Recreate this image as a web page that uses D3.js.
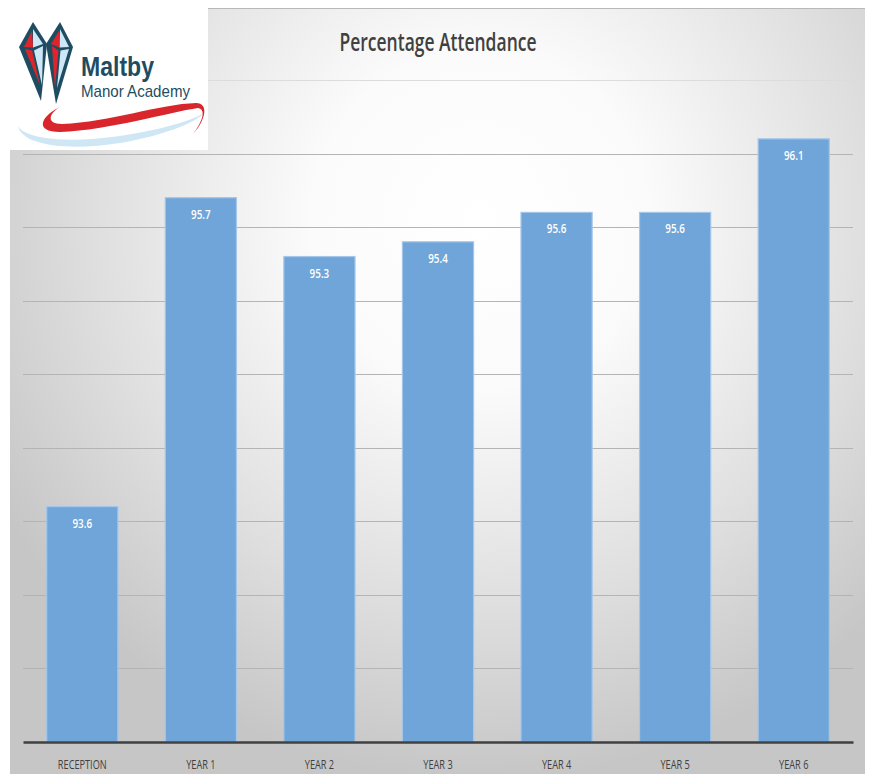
<!DOCTYPE html>
<html>
<head>
<meta charset="utf-8">
<script src="https://cdn.jsdelivr.net/npm/d3@7"></script>
<style>
  body { margin: 0; background: #fff; }
  svg { display: block; }
  .narrow { font-family: "Open Sans", "Noto Sans", sans-serif; }
</style>
</head>
<body>
<div id="chart"></div>
<script>
// data
const years = ["RECEPTION", "YEAR 1", "YEAR 2", "YEAR 3", "YEAR 4", "YEAR 5", "YEAR 6"];
const attendance = [93.6, 95.7, 95.3, 95.4, 95.6, 95.6, 96.1];
const gridTicks = [92, 92.5, 93, 93.5, 94, 94.5, 95, 95.5, 96, 96.5];

const width = 870, height = 774;

const margin = { top: 80, right: 17, bottom: 32, left: 23 };

// squeeze text to look like a condensed font
function condense(sel, k) {
  sel.each(function () {
    const w = this.getComputedTextLength();
    d3.select(this)
        .attr("textLength", w * k)
        .attr("lengthAdjust", "spacingAndGlyphs");
  });
}

const svg = d3.select("#chart")
    .append("svg")
    .attr("width", width)
    .attr("height", height);

// background gradient
const defs = svg.append("defs");
const grad = defs.append("radialGradient")
    .attr("id", "bg")
    .attr("gradientUnits", "userSpaceOnUse")
    .attr("cx", 480).attr("cy", 220).attr("r", 560);
grad.append("stop").attr("offset", "0%").attr("stop-color", "#ffffff");
grad.append("stop").attr("offset", "30%").attr("stop-color", "#fbfbfb");
grad.append("stop").attr("offset", "70%").attr("stop-color", "#dedede");
grad.append("stop").attr("offset", "100%").attr("stop-color", "#c6c6c6");

svg.append("rect")
    .attr("x", 10).attr("y", 8)
    .attr("width", 855).attr("height", 766)
    .attr("fill", "url(#bg)");

svg.append("line")
    .attr("x1", 10).attr("x2", 865)
    .attr("y1", 8.5).attr("y2", 8.5)
    .attr("stroke", "#b8b8b8")
    .attr("stroke-width", 1);

// scales
const x = d3.scaleBand()
    .domain(years)
    .range([margin.left, width - margin.right])
    .paddingInner(0.4)
    .paddingOuter(0.2);

const y = d3.scaleLinear()
    .domain([92, 96.5])
    .range([height - margin.bottom, margin.top]);

// gridlines
svg.append("g")
    .selectAll("line")
    .data(gridTicks.slice(1))
    .enter()
    .append("line")
    .attr("x1", margin.left)
    .attr("x2", width - margin.right)
    .attr("y1", (d) => Math.round(y(d)) + 0.5)
    .attr("y2", (d) => Math.round(y(d)) + 0.5)
    .attr("stroke", (d) => d === 96.5 ? "#dcdcdc" : "#b4b4b4")
    .attr("stroke-width", 1);

// bars
svg.append("g")
    .selectAll("rect")
    .data(attendance)
    .enter()
    .append("rect")
    .attr("x", (d, i) => x(years[i]))
    .attr("y", (d) => y(d))
    .attr("width", x.bandwidth())
    .attr("height", (d) => y(92) - y(d))
    .attr("fill", "#6fa5d8")
    .attr("stroke", "#a3c6e9")
    .attr("stroke-width", 1.2);

// value labels
svg.append("g")
    .selectAll("text")
    .data(attendance)
    .enter()
    .append("text")
    .attr("class", "narrow")
    .attr("x", (d, i) => x(years[i]) + x.bandwidth() / 2)
    .attr("y", (d) => y(d) + 21)
    .attr("text-anchor", "middle")
    .attr("font-size", 13)
    .attr("font-weight", 600)
    .attr("fill", "#ffffff")
    .text((d) => d.toFixed(1))
    .call(condense, 0.76);

// x axis
const xAxis = svg.append("g")
    .attr("transform", `translate(0,${y(92)})`)
    .call(d3.axisBottom(x).tickSize(0).tickPadding(17));

xAxis.select(".domain")
    .attr("stroke", "#404040")
    .attr("stroke-width", 2.5);

xAxis.selectAll("text")
    .attr("class", "narrow")
    .attr("font-size", 13.5)
    .attr("fill", "#404040")
    .call(condense, 0.68);

// title
svg.append("text")
    .attr("class", "narrow")
    .attr("x", 438)
    .attr("y", 51)
    .attr("text-anchor", "middle")
    .attr("font-size", 25)
    .attr("font-weight", 600)
    .attr("fill", "#404040")
    .text("Percentage Attendance")
    .attr("textLength", 197)
    .attr("lengthAdjust", "spacingAndGlyphs");

// logo
const logo = svg.append("g");
logo.append("rect")
    .attr("x", 0).attr("y", 0)
    .attr("width", 208).attr("height", 150)
    .attr("fill", "#ffffff");

// swoosh
logo.append("path")
    .attr("d", "M18,126 C26,140 70,143 120,136 C160,130 195,120 205,112 C195,124 160,136 120,143 C70,151 22,146 18,126 Z")
    .attr("fill", "#cfe6f5");
logo.append("path")
    .attr("d", "M62,106 C40,116 34,132 60,132 C110,130 170,112 198,108 C208,110 200,125 193,134 C206,120 209,103 196,103 C160,104 110,122 62,124 C46,124 48,113 62,106 Z")
    .attr("fill", "#d9262c");

// two kites forming the emblem
const kites = [
  { top: [33, 22], left: [19, 47], right: [47, 44], bottom: [41, 101] },
  { top: [60, 22], left: [46, 44], right: [73, 47], bottom: [56, 104] }
];
kites.forEach((k) => {
  const pts = [k.top, k.right, k.bottom, k.left];
  logo.append("polygon")
      .attr("points", pts.map((p) => p.join(",")).join(" "))
      .attr("fill", "#1e4d62");
  const cx = (k.left[0] + k.right[0]) / 2;
  const cy = (k.left[1] + k.right[1]) / 2;
  logo.append("polygon")
      .attr("points", [[k.top[0], k.top[1] + 7], [k.right[0] - 4, k.right[1]], [cx, cy + 2]].map((p) => p.join(",")).join(" "))
      .attr("fill", "#cde7f6");
  logo.append("polygon")
      .attr("points", [[k.top[0] - 1, k.top[1] + 9], [k.left[0] + 5, k.left[1]], [cx, cy + 2]].map((p) => p.join(",")).join(" "))
      .attr("fill", "#e0242c");
  logo.append("polygon")
      .attr("points", [[k.left[0] + 6, k.left[1] + 2], [cx - 1, cy + 5], [k.bottom[0] - 1, k.bottom[1] - 16]].map((p) => p.join(",")).join(" "))
      .attr("fill", "#e0242c");
  logo.append("polygon")
      .attr("points", [[k.right[0] - 4, k.right[1] + 2], [cx + 1, cy + 5], [k.bottom[0] + 1, k.bottom[1] - 16]].map((p) => p.join(",")).join(" "))
      .attr("fill", "#cde7f6");
});

logo.append("text")
    .attr("x", 81).attr("y", 76)
    .attr("font-family", "'Liberation Sans', Arial, sans-serif")
    .attr("font-size", 27)
    .attr("font-weight", "bold")
    .attr("fill", "#1e4d62")
    .text("Maltby")
    .attr("textLength", 73)
    .attr("lengthAdjust", "spacingAndGlyphs");
logo.append("text")
    .attr("x", 81).attr("y", 97)
    .attr("font-family", "'Liberation Sans', Arial, sans-serif")
    .attr("font-size", 17)
    .attr("fill", "#1e4d62")
    .text("Manor Academy")
    .attr("textLength", 109)
    .attr("lengthAdjust", "spacingAndGlyphs");
</script>
</body>
</html>
